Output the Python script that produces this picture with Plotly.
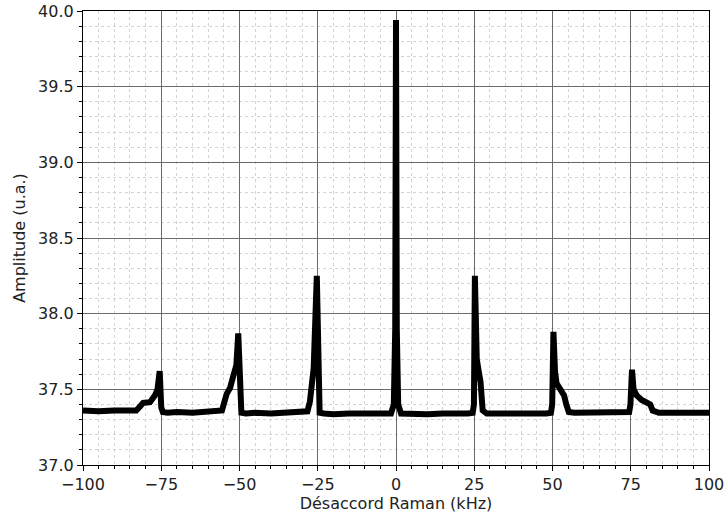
import plotly.graph_objects as go

# Raman detuning spectrum
detuning_khz = [
    -100, -95, -90, -85, -83, -82.3, -80.8, -78.6, -77.0, -76.2, -75.5, -75.0, -74.5, -73,
    -70, -65, -60, -57, -55.6, -54.1, -53.0, -52.1, -51.0, -50.4, -49.9, -49.4, -48,
    -45, -40, -35, -30, -28.3, -27.5, -26.9, -26.3, -25.3, -24.9, -24.4, -23,
    -20, -15, -10, -5, -1.6, -0.7, -0.25, 0, 0.25, 0.7, 1.6,
    5, 10, 15, 20, 23, 24.5, 24.9, 25.2, 25.8, 26.5, 27.0, 27.7, 29,
    35, 40, 45, 48, 49.5, 49.9, 50.3, 50.8, 51.3, 52.5, 53.7, 54.4, 55.2, 57,
    60, 65, 70, 73, 74.5, 74.9, 75.4, 75.9, 76.9, 78.5, 80.1, 81.2, 82.0, 84,
    90, 95, 100,
]
amplitude = [
    37.36, 37.355, 37.36, 37.355, 37.36, 37.375, 37.41, 37.415, 37.46, 37.50, 37.62, 37.38, 37.35, 37.345,
    37.35, 37.345, 37.35, 37.35, 37.36, 37.47, 37.51, 37.58, 37.66, 37.87, 37.38, 37.345, 37.34,
    37.345, 37.34, 37.345, 37.345, 37.355, 37.42, 37.60, 37.64, 38.25, 37.40, 37.345, 37.34,
    37.335, 37.34, 37.335, 37.34, 37.34, 37.40, 37.90, 39.94, 37.90, 37.40, 37.34,
    37.335, 37.335, 37.34, 37.335, 37.34, 37.345, 37.40, 38.25, 37.70, 37.61, 37.55, 37.36, 37.34,
    37.34, 37.335, 37.34, 37.34, 37.345, 37.40, 37.88, 37.62, 37.54, 37.50, 37.46, 37.40, 37.35, 37.345,
    37.345, 37.345, 37.35, 37.345, 37.35, 37.40, 37.63, 37.50, 37.46, 37.43, 37.41, 37.40, 37.36, 37.345,
    37.345, 37.345, 37.345,
]

x_ticks = [-100, -75, -50, -25, 0, 25, 50, 75, 100]
y_ticks = [37.0, 37.5, 38.0, 38.5, 39.0, 39.5, 40.0]

font = dict(family="DejaVu Sans", size=16, color="#222")

fig = go.Figure(go.Scatter(
    x=detuning_khz, y=amplitude, mode="lines",
    line=dict(color="black", width=6),
    showlegend=False,
))

axis_common = dict(
    showline=True, linecolor="black", linewidth=1.2, mirror=True,
    ticks="outside", ticklen=5, tickwidth=1, tickcolor="black",
    showgrid=True, gridcolor="#6b6b6b", gridwidth=1,
    zeroline=False, automargin=False, ticklabeloverflow="allow",
    tickfont=font,
)

fig.update_xaxes(
    range=[-100, 100], tickvals=x_ticks,
    title=dict(text="Désaccord Raman (kHz)", font=font, standoff=4),
    minor=dict(dtick=5, ticklen=3, tickcolor="black", ticks="outside",
               showgrid=True, gridcolor="#d4d4d4", griddash="dot", gridwidth=1.2),
    **axis_common,
)
fig.update_yaxes(
    range=[37.0, 40.0], tickvals=y_ticks, tickformat=".1f",
    title=dict(text="Amplitude (u.a.)", font=font, standoff=8),
    minor=dict(dtick=0.1, ticklen=3, tickcolor="black", ticks="outside",
               showgrid=True, gridcolor="#d4d4d4", griddash="dot", gridwidth=1.2),
    **axis_common,
)

fig.update_layout(
    width=726, height=520,
    margin=dict(l=83, r=17, t=11, b=55),
    plot_bgcolor="white", paper_bgcolor="white",
)

# drop the browser's default 8px body margin so the figure fills the window
fig.write_html("out.html", config={"displayModeBar": False},
               post_script="document.body.style.margin='0px';")
